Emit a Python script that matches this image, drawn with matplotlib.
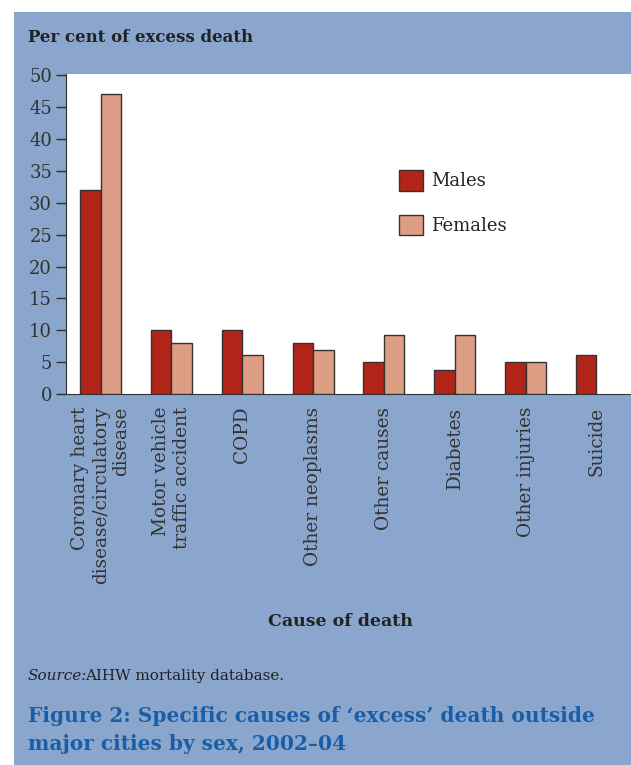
import numpy as np
import matplotlib.pyplot as plt
from matplotlib.patches import Rectangle

# data
causes = ['Coronary heart\ndisease/circulatory\ndisease',
          'Motor vehicle\ntraffic accident',
          'COPD',
          'Other neoplasms',
          'Other causes',
          'Diabetes',
          'Other injuries',
          'Suicide']
males = [32, 10, 10, 8, 5, 3.8, 5, 6.1]
females = [47, 8, 6.1, 6.9, 9.2, 9.2, 5, 0]

panel = '#8aa6cd'
male_col = '#b22418'
female_col = '#de9d85'

plt.rcParams['font.family'] = ['DejaVu Serif']

W, H = 631, 765
fig = plt.figure(figsize=(W / 100, H / 100), dpi=100)
fig.patch.set_facecolor('white')
fig.patches.append(Rectangle((14 / W, 0), 1, 1 - 12 / H, transform=fig.transFigure,
                             facecolor=panel, edgecolor='none', zorder=-5))

ax = fig.add_axes([66 / W, 1 - 394 / H, 565 / W, 320 / H])
ax.set_zorder(2)
ax.set_facecolor('white')

x = np.arange(len(causes))
bw = 0.29
ax.bar(x - bw / 2, males, bw, color=male_col, edgecolor='#333333', linewidth=1, label='Males', zorder=3)
f = np.array(females, dtype=float)
has_f = f > 0
ax.bar(x[has_f] + bw / 2, f[has_f], bw, color=female_col, edgecolor='#333333', linewidth=1,
       label='Females', zorder=3)

ax.set_xlim(-0.49, 7.49)
ax.set_ylim(0, 50.2)
ax.set_yticks(range(0, 51, 5))
ax.tick_params(axis='y', direction='out', length=7, width=1, color='#333333',
               labelsize=13, labelcolor='#333333', pad=3)
ax.set_xticks(x)
ax.set_xticklabels(causes, rotation=90, fontsize=13.3, color='#333333', multialignment='right')
ax.tick_params(axis='x', length=0, pad=9)

for s in ['top', 'right']:
    ax.spines[s].set_visible(False)
ax.spines['left'].set_color('#333333')
ax.spines['bottom'].set_color('#333333')
ax.spines['bottom'].set_bounds(-0.62, 7.49)

ax.legend(loc='upper left', bbox_to_anchor=(383 / W, 1 - 154 / H), bbox_transform=fig.transFigure,
          frameon=False, fontsize=13, handlelength=1.3, handleheight=1.35, labelspacing=1.35,
          handletextpad=0.45, labelcolor='#222222')

fig.text(28 / W, 1 - 37 / H, 'Per cent of excess death', fontsize=12, fontweight='bold',
         color='#222222', va='center', ha='left')
fig.text(340 / W, 1 - 621 / H, 'Cause of death', fontsize=12.5, fontweight='bold',
         color='#222222', va='center', ha='center')
fig.text(28 / W, 1 - 676 / H, 'Source:', fontsize=11, fontstyle='italic', color='#222222',
         va='center', ha='left')
fig.text(85 / W, 1 - 676 / H, 'AIHW mortality database.', fontsize=10.9, color='#222222',
         va='center', ha='left')
fig.text(28 / W, 1 - 730 / H, 'Figure 2: Specific causes of \u2018excess\u2019 death outside\nmajor cities by sex, 2002\u201304',
         fontsize=14.5, fontweight='bold', color='#1a5ea8', va='center', ha='left', linespacing=1.48)

fig.savefig('out.png', dpi=100)
